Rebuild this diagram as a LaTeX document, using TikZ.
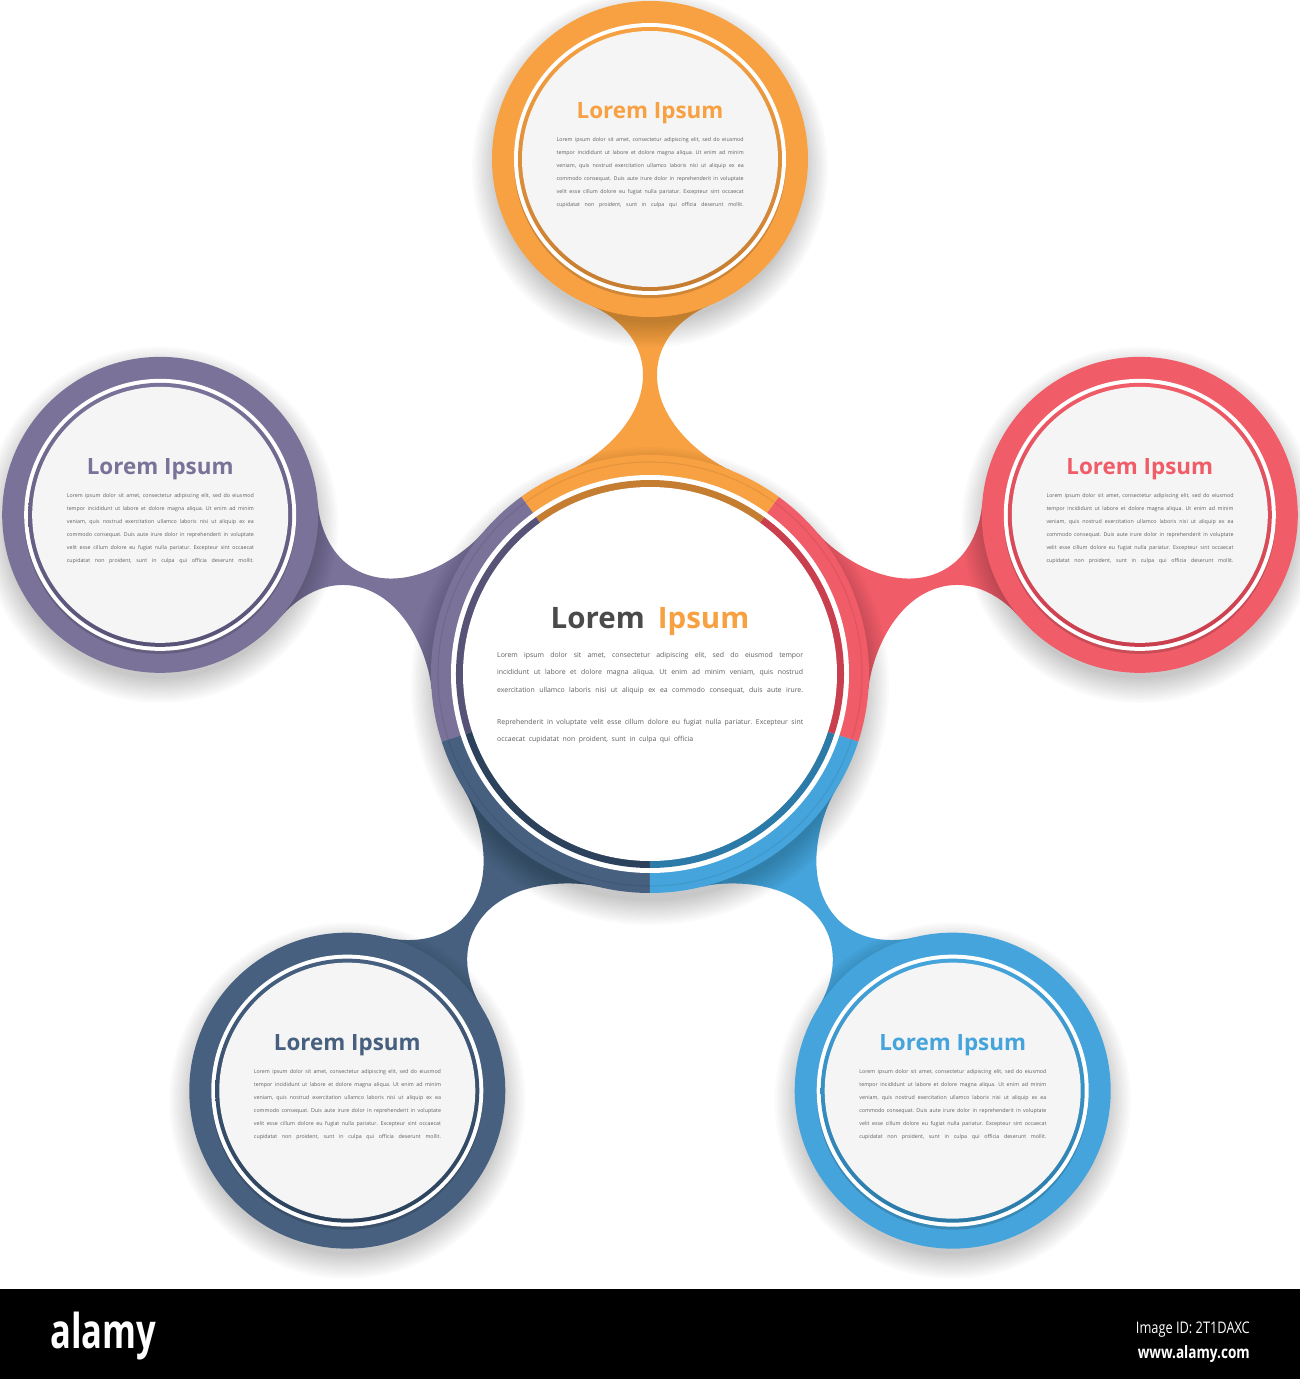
\documentclass[tikz,border=0pt]{standalone}
\usepackage{fontspec}
\setmainfont{Open Sans}
\usetikzlibrary{calc}
\definecolor{cOr}{HTML}{F7A142}
\definecolor{cOrD}{HTML}{C57D32}
\definecolor{cRe}{HTML}{F05C68}
\definecolor{cReD}{HTML}{C93F4E}
\definecolor{cPu}{HTML}{7A7298}
\definecolor{cPuD}{HTML}{575377}
\definecolor{cNa}{HTML}{476080}
\definecolor{cNaD}{HTML}{2C425C}
\definecolor{cBl}{HTML}{45A4DB}
\definecolor{cBlD}{HTML}{2B7AA8}
\definecolor{txt}{HTML}{5E5E5E}
\definecolor{innerg}{HTML}{F5F5F5}
\definecolor{ctitle}{HTML}{4A4A4A}
\frenchspacing
\newcommand{\titlefont}{\fontsize{22.4pt}{24pt}\selectfont\bfseries}
\newcommand{\ctitlefont}{\fontsize{29.5pt}{31pt}\selectfont\bfseries}
\newcommand{\satfont}{\fontsize{5.3pt}{6pt}\selectfont}
\newcommand{\cenfont}{\fontsize{6.9pt}{8pt}\selectfont}
\def\satlines{{Lorem ipsum dolor sit amet, consectetur adipiscing elit, sed do eiusmod},{tempor incididunt ut labore et dolore magna aliqua. Ut enim ad minim},{veniam, quis nostrud exercitation ullamco laboris nisi ut aliquip ex ea},{commodo consequat. Duis aute irure dolor in reprehenderit in voluptate},{velit esse cillum dolore eu fugiat nulla pariatur. Excepteur sint occaecat},{cupidatat non proident, sunt in culpa qui officia deserunt mollit.}}
\tikzset{
  bodyline/.style={anchor=base west, inner sep=0pt, text=txt},
  sattitle/.style={anchor=base, inner sep=0pt, font=\titlefont},
}
\begin{document}
\begin{tikzpicture}[x=1pt,y=1pt]
\useasboundingbox (-650,-705) rectangle (650,674);
\fill[white] (-650,-705) rectangle (650,674);
\coordinate (c) at (0,0);
\foreach \ang/\nm in {90/top,162/pur,18/red,234/nav,306/blu}{
  \coordinate (s-\nm) at (\ang:515);
}
% necks
\foreach \ang/\col in {90/cOr,162/cPu,18/cRe,234/cNa,306/cBl}{
  \begin{scope}[rotate=\ang]
    \fill[\col] (203.1,82) .. controls (212.5,58.8) and (249,7) .. (299,7)
      .. controls (339,7) and (361,40.7) .. (368.5,59.2) -- (368.5,-59.2)
      .. controls (361,-40.7) and (339,-7) .. (299,-7)
      .. controls (249,-7) and (212.5,-58.8) .. (203.1,-82) -- cycle;
  \end{scope}
}
% shadows
\foreach \nm in {top,pur,red,nav,blu}{
  \foreach \k in {0,...,10}{
    \fill[black,opacity=0.018] ($(s-\nm)+(0,-10)$) circle ({154+2.4*\k});
  }
}
\foreach \k in {0,...,10}{
  \fill[black,opacity=0.018] (0,-12) circle ({215+2.4*\k});
}
% centre ring
\foreach \a/\col in {-18/cRe,54/cOr,126/cPu,198/cNa,270/cBl}{
  \fill[\col] (c) -- (\a:219) arc[start angle=\a, delta angle=72, radius=219] -- cycle;
}
\draw[black,opacity=0.07,line width=1.2] (c) circle (212);
\fill[white] (c) circle (199);
\foreach \a/\col in {-18/cReD,54/cOrD,126/cPuD,198/cNaD,270/cBlD}{
  \fill[\col] (c) -- (\a:194) arc[start angle=\a, delta angle=72, radius=194] -- cycle;
}
\fill[white] (c) circle (187);
% satellites
\foreach \nm/\col/\dcol in {top/cOr/cOrD,pur/cPu/cPuD,red/cRe/cReD,nav/cNa/cNaD,blu/cBl/cBlD}{
  \fill[\col] (s-\nm) circle (158);
  \fill[black,opacity=0.16] ($(s-\nm)+(0,-3)$) circle (136);
  \fill[white] (s-\nm) circle (136);
  \shade[top color=\col, bottom color=\dcol] (s-\nm) circle (132);
  \fill[innerg] (s-\nm) circle (128);
  \node[sattitle, text=\col] (ttl-\nm) at ($(s-\nm)+(0,40)$) {Lorem Ipsum};
  \foreach \tl [count=\i] in \satlines {
    \pgfmathsetmacro\yy{17.5-13.1*(\i-1)}
    \node[bodyline, font=\satfont] (b-\nm-\i) at ($(s-\nm)+(-93.5,\yy)$) {\makebox[187pt][s]{\tl}};
  }
}
% centre text
\node[anchor=base, inner sep=0pt, font=\ctitlefont] (ctitle) at (0,46) {\textcolor{ctitle}{Lorem}\hspace{13pt}\textcolor{cOr}{Ipsum}};
\node[bodyline, font=\cenfont] (cb1) at (-153,16.3) {\makebox[306pt][s]{Lorem ipsum dolor sit amet, consectetur adipiscing elit, sed do eiusmod tempor}};
\node[bodyline, font=\cenfont] (cb2) at (-153,-0.7) {\makebox[306pt][s]{incididunt ut labore et dolore magna aliqua. Ut enim ad minim veniam, quis nostrud}};
\node[bodyline, font=\cenfont] (cb3) at (-153,-18) {\makebox[306pt][s]{exercitation ullamco laboris nisi ut aliquip ex ea commodo consequat, duis aute irure.}};
\node[bodyline, font=\cenfont] (cb4) at (-153,-50.3) {\makebox[306pt][s]{Reprehenderit in voluptate velit esse cillum dolore eu fugiat nulla pariatur. Excepteur sint}};
\node[bodyline, font=\cenfont] (cb5) at (-153,-67.3) {occaecat\ \ cupidatat\ \ non\ \ proident,\ \ sunt\ \ in\ \ culpa\ \ qui\ \ officia};
% stock bar
\fill[black] (-650,-705) rectangle (650,-615);
\node[anchor=base west, inner sep=0pt, text=white] (alamy) at (-600,-674) {\scalebox{0.72}[1]{\fontsize{48pt}{48pt}\selectfont\bfseries alamy}};
\node[anchor=base east, inner sep=0pt, text=white] (imgid) at (600,-659) {\scalebox{0.8}[1]{\fontsize{16pt}{16pt}\selectfont Image ID: 2T1DAXC}};
\node[anchor=base east, inner sep=0pt, text=white] (www) at (600,-684) {\scalebox{0.8}[1]{\fontsize{17pt}{17pt}\selectfont\bfseries www.alamy.com}};
\end{tikzpicture}
\end{document}
